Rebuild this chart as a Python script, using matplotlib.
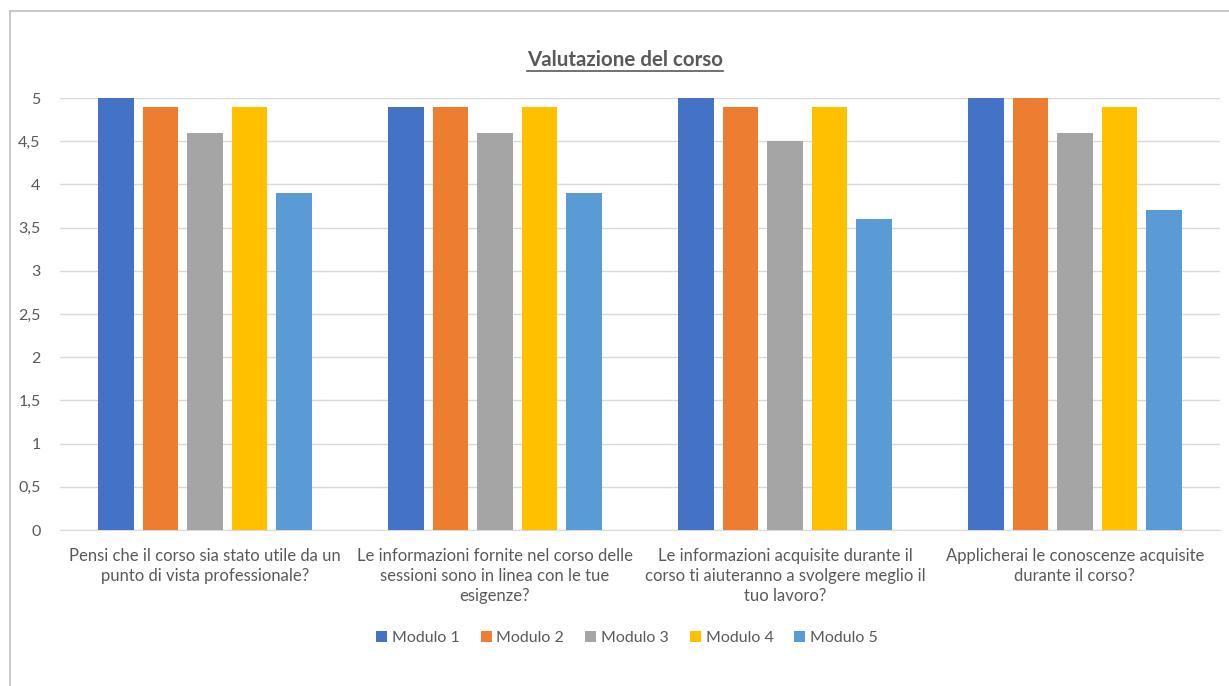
import numpy as np
import matplotlib
matplotlib.use('Agg')
import matplotlib.pyplot as plt
from matplotlib.ticker import FuncFormatter
from matplotlib.patches import Rectangle

plt.rcParams['font.family'] = ['Lato', 'DejaVu Sans']

# --- data ---
domande = ['Pensi che il corso sia stato utile da un\npunto di vista professionale?',
           'Le informazioni fornite nel corso delle\nsessioni sono in linea con le tue\nesigenze?',
           'Le informazioni acquisite durante il\ncorso ti aiuteranno a svolgere meglio il\ntuo lavoro?',
           'Applicherai le conoscenze acquisite\ndurante il corso?']
moduli = ['Modulo 1', 'Modulo 2', 'Modulo 3', 'Modulo 4', 'Modulo 5']
modulo_1 = [5.0, 4.9, 5.0, 5.0]
modulo_2 = [4.9, 4.9, 4.9, 5.0]
modulo_3 = [4.6, 4.6, 4.5, 4.6]
modulo_4 = [4.9, 4.9, 4.9, 4.9]
modulo_5 = [3.9, 3.9, 3.6, 3.7]
valori = [modulo_1, modulo_2, modulo_3, modulo_4, modulo_5]
colori = ['#4472C4', '#ED7D31', '#A5A5A5', '#FFC000', '#5B9BD5']
text_col = '#595959'

fig = plt.figure(figsize=(12.29, 6.86), dpi=100)
ax = fig.add_axes([60 / 1229, 1 - 530 / 686, 1160 / 1229, 432 / 686])

# outer chart border
fig.patches.append(Rectangle((10 / 1229, -0.01), 1.02, 1 - 11 / 686 + 0.01,
                             transform=fig.transFigure, fill=False,
                             edgecolor='#BFBFBF', linewidth=1.2))

x = np.arange(len(domande))
pitch = 0.1535
width = 0.121
for i, (nome, vals) in enumerate(zip(moduli, valori)):
    ax.bar(x + (i - 2) * pitch, vals, width, color=colori[i], label=nome, zorder=3)

ax.set_xlim(-0.5, len(domande) - 0.5)
ax.set_ylim(0, 5)
ax.set_yticks(np.arange(0, 5.01, 0.5))
ax.yaxis.set_major_formatter(FuncFormatter(lambda v, p: ('%g' % v).replace('.', ',')))
ax.grid(axis='y', color='#D9D9D9', linewidth=1, zorder=0)
for s in ['top', 'right', 'left']:
    ax.spines[s].set_visible(False)
ax.spines['bottom'].set_color('#D9D9D9')
ax.tick_params(axis='both', length=0, colors=text_col, labelsize=11.5)
ax.tick_params(axis='y', pad=14)
ax.set_xticks(x)
ax.set_xticklabels(domande, fontsize=12, color=text_col, linespacing=1.3)
ax.tick_params(axis='x', pad=13)

leg = fig.legend(loc='center', bbox_to_anchor=(627 / 1229, 1 - 638 / 686), ncol=5,
                 frameon=False, fontsize=11.5, handlelength=0.7, handleheight=0.7,
                 handletextpad=0.3, columnspacing=1.3)
for t in leg.get_texts():
    t.set_color(text_col)

# title with underline
title = fig.text(625 / 1229, 1 - 60 / 686, 'Valutazione del corso', ha='center', va='center',
                 fontsize=14.8, fontweight='bold', color=text_col)
fig.canvas.draw()
bb = title.get_window_extent().transformed(fig.transFigure.inverted())
fig.add_artist(plt.Line2D([bb.x0, bb.x1], [bb.y0 - 0.002, bb.y0 - 0.002],
                          transform=fig.transFigure, color=text_col, linewidth=1.2))

fig.savefig('out.png', dpi=100)
